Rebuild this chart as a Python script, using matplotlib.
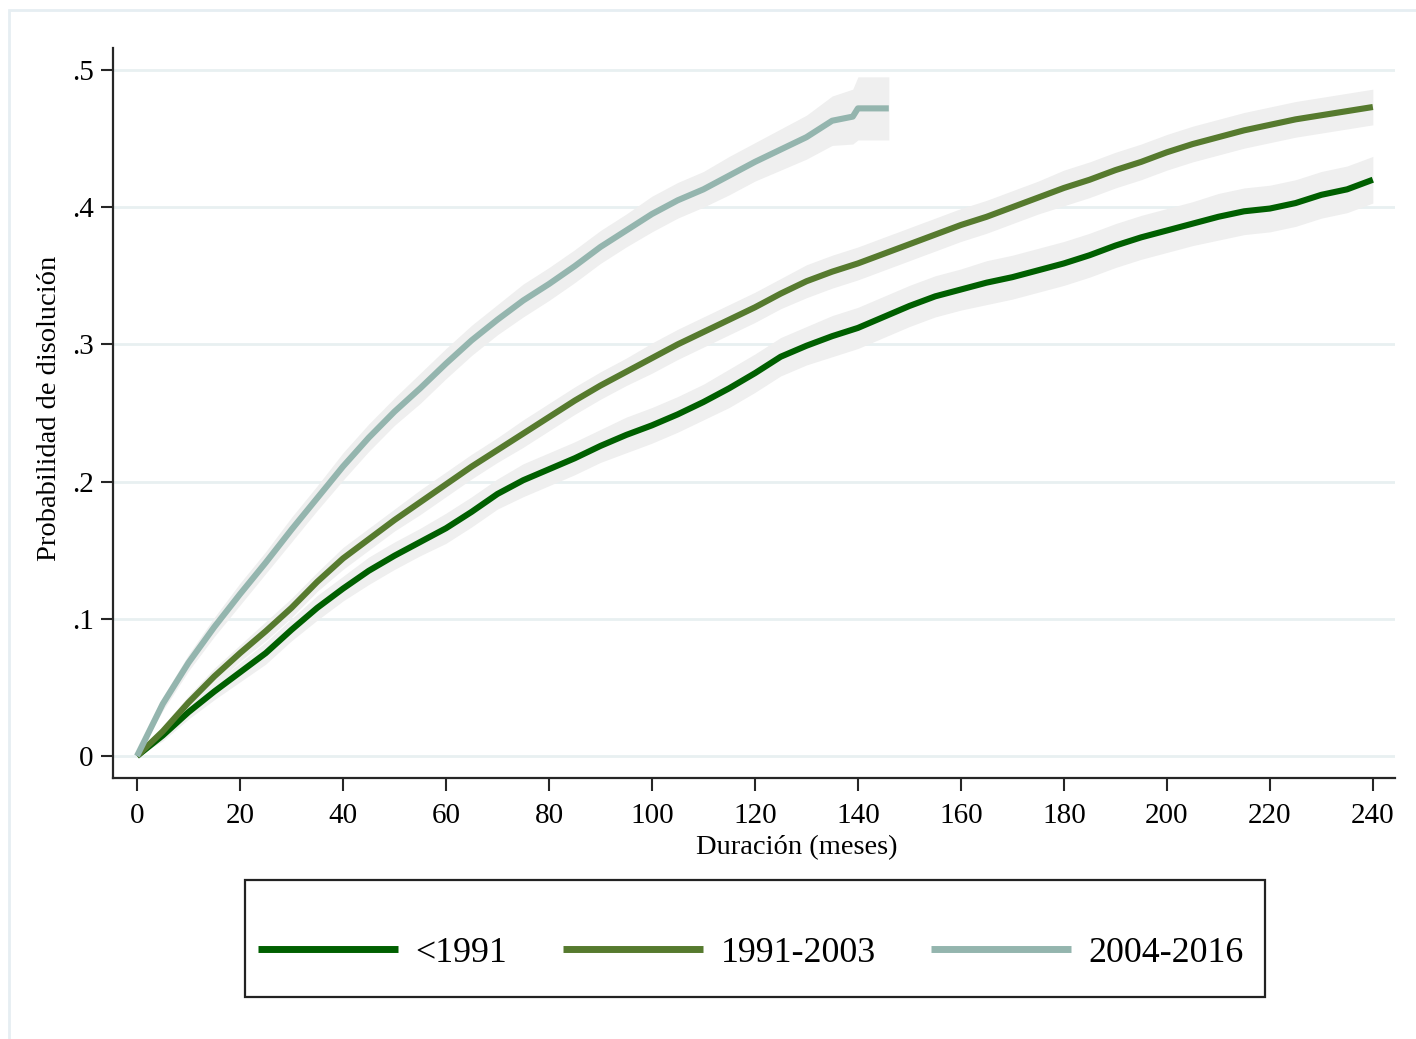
import matplotlib
matplotlib.use('Agg')
import matplotlib.pyplot as plt
from matplotlib.lines import Line2D
from matplotlib.patches import Rectangle
import numpy as np

plt.rcParams['font.family'] = ['Liberation Serif', 'DejaVu Serif']

# Meses (cada 5) para las dos cohortes largas
meses = list(range(0, 245, 5))

# <1991
prob_1 = [0, 0.015, 0.032, 0.047, 0.061, 0.075, 0.092, 0.108, 0.122, 0.135,
          0.146, 0.156, 0.166, 0.178, 0.191, 0.201, 0.209, 0.217, 0.226, 0.234,
          0.241, 0.249, 0.258, 0.268, 0.279, 0.291, 0.299, 0.306, 0.312, 0.320,
          0.328, 0.335, 0.340, 0.345, 0.349, 0.354, 0.359, 0.365, 0.372, 0.378,
          0.383, 0.388, 0.393, 0.397, 0.399, 0.403, 0.409, 0.413, 0.420]
ic_1 = [0, 0.004, 0.005, 0.006, 0.007, 0.008, 0.008, 0.009, 0.009, 0.010,
        0.010, 0.010, 0.011, 0.011, 0.011, 0.012, 0.012, 0.012, 0.012, 0.013,
        0.013, 0.013, 0.013, 0.014, 0.014, 0.014, 0.014, 0.015, 0.015, 0.015,
        0.015, 0.015, 0.015, 0.016, 0.016, 0.016, 0.016, 0.016, 0.016, 0.016,
        0.016, 0.016, 0.017, 0.017, 0.017, 0.017, 0.017, 0.017, 0.017]

# 1991-2003
prob_2 = [0, 0.018, 0.039, 0.058, 0.075, 0.091, 0.108, 0.127, 0.144, 0.158,
          0.172, 0.185, 0.198, 0.211, 0.223, 0.235, 0.247, 0.259, 0.270, 0.280,
          0.290, 0.300, 0.309, 0.318, 0.327, 0.337, 0.346, 0.353, 0.359, 0.366,
          0.373, 0.380, 0.387, 0.393, 0.400, 0.407, 0.414, 0.420, 0.427, 0.433,
          0.440, 0.446, 0.451, 0.456, 0.460, 0.464, 0.467, 0.470, 0.473]
ic_2 = [0, 0.004, 0.005, 0.006, 0.006, 0.007, 0.007, 0.007, 0.008, 0.008,
        0.008, 0.009, 0.009, 0.009, 0.009, 0.010, 0.010, 0.010, 0.010, 0.010,
        0.011, 0.011, 0.011, 0.011, 0.011, 0.011, 0.012, 0.012, 0.012, 0.012,
        0.012, 0.012, 0.012, 0.012, 0.012, 0.012, 0.013, 0.013, 0.013, 0.013,
        0.013, 0.013, 0.013, 0.013, 0.013, 0.013, 0.013, 0.013, 0.013]

# 2004-2016 (termina en 146 meses)
meses_3 = [0, 5, 10, 15, 20, 25, 30, 35, 40, 45, 50, 55, 60, 65, 70, 75, 80,
           85, 90, 95, 100, 105, 110, 115, 120, 125, 130, 135, 139, 140, 146]
prob_3 = [0, 0.038, 0.068, 0.094, 0.118, 0.141, 0.165, 0.188, 0.211, 0.232,
          0.251, 0.268, 0.286, 0.303, 0.318, 0.332, 0.344, 0.357, 0.371, 0.383,
          0.395, 0.405, 0.413, 0.423, 0.433, 0.442, 0.451, 0.463, 0.466, 0.472,
          0.472]
ic_3 = [0, 0.005, 0.006, 0.007, 0.008, 0.008, 0.009, 0.009, 0.010, 0.010,
        0.010, 0.011, 0.011, 0.011, 0.011, 0.012, 0.012, 0.012, 0.012, 0.012,
        0.013, 0.013, 0.013, 0.014, 0.014, 0.015, 0.016, 0.018, 0.020, 0.023,
        0.023]

etiquetas = ['<1991', '1991-2003', '2004-2016']
colores = ['#005f00', '#567a2e', '#94b5ae']

W, H = 1416, 1039
fig = plt.figure(figsize=(W / 100, H / 100), dpi=100)
ax = fig.add_axes([113 / W, 1 - 778 / H, (1395 - 113) / W, (778 - 48) / H])

series = [(meses, prob_1, ic_1), (meses, prob_2, ic_2), (meses_3, prob_3, ic_3)]

# bandas de confianza
for x, y, ic in series:
    y = np.array(y)
    ic = np.array(ic)
    ax.fill_between(x, y - ic, y + ic, color='#efefef', lw=0, zorder=1)

for (x, y, ic), c in zip(series, colores):
    ax.plot(x, y, color=c, lw=4.4, zorder=3, solid_capstyle='butt')

ax.set_xlim(-4.66, 244.3)
ax.set_ylim(-0.016, 0.516)
ax.set_xticks(range(0, 241, 20))
ax.set_yticks([0, 0.1, 0.2, 0.3, 0.4, 0.5])
ax.set_yticklabels(['0', '.1', '.2', '.3', '.4', '.5'])
ax.yaxis.grid(True, color='#e8f0f1', lw=2)
ax.set_axisbelow(True)

for s in ['top', 'right']:
    ax.spines[s].set_visible(False)
for s in ['left', 'bottom']:
    ax.spines[s].set_linewidth(1.6)
    ax.spines[s].set_color('#262626')
ax.tick_params(length=9, width=1.5, color='#262626', labelsize=21)
ax.tick_params(axis='x', pad=9)
ax.tick_params(axis='y', pad=5)

ax.set_xlabel('Duración (meses)', fontsize=20.5)
ax.set_ylabel('Probabilidad de disolución', fontsize=20.5)
ax.xaxis.set_label_coords((797 - 113) / 1282, -(835 - 778) / 730)
ax.yaxis.set_label_coords(-(113 - 62) / 1282, (778 - 408) / 730)

# recuadro de la leyenda
fig.patches.append(Rectangle((245 / W, 1 - 997 / H), (1265 - 245) / W, (997 - 880) / H,
                             transform=fig.transFigure, fill=False,
                             edgecolor='#222222', lw=1.6))
handles = [Line2D([0], [0], color=c, lw=5, solid_capstyle='butt') for c in colores]
fig.legend(handles, etiquetas, loc='center', bbox_to_anchor=(751 / W, 1 - 953 / H),
           ncol=3, frameon=False, fontsize=25.8, handlelength=3.9,
           handletextpad=0.5, columnspacing=1.55)

# marco exterior claro
fig.patches.append(Rectangle((9 / W, -0.05), 1.2, 1 - 10 / H + 0.05,
                             transform=fig.transFigure, fill=False,
                             edgecolor='#e6eef2', lw=2))

fig.savefig('out.png', dpi=100)
